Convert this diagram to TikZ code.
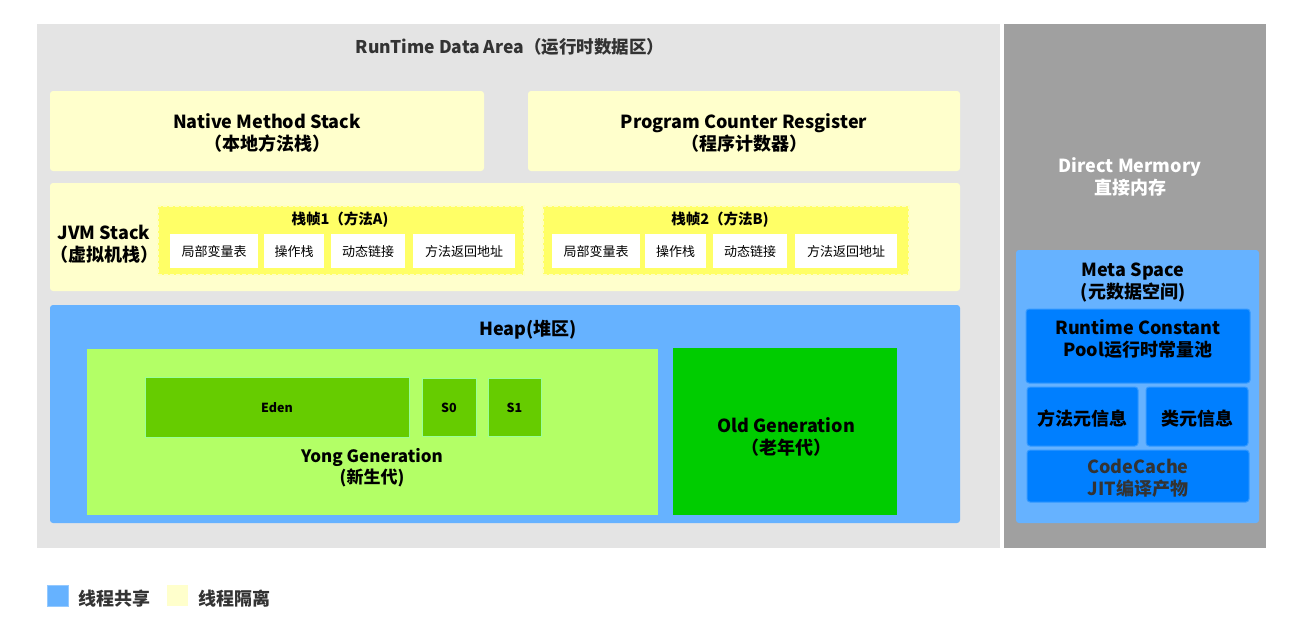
\documentclass[tikz,border=0pt]{standalone}
\usepackage{fontspec}
\setmainfont{Noto Sans CJK SC}
\definecolor{bgA}{HTML}{E4E4E4}
\definecolor{bgD}{HTML}{A0A0A0}
\definecolor{lyel}{HTML}{FFFFCC}
\definecolor{fyel}{HTML}{FFFF66}
\definecolor{fyelb}{HTML}{FFFFC0}
\definecolor{hblue}{HTML}{66B2FF}
\definecolor{dblue}{HTML}{007FFF}
\definecolor{dbluel}{HTML}{3399FF}
\definecolor{ygreen}{HTML}{B3FF66}
\definecolor{egreen}{HTML}{66CC00}
\definecolor{egreenb}{HTML}{99FF99}
\definecolor{ogreen}{HTML}{00CC00}
\definecolor{txtg}{HTML}{333333}
\tikzset{
  area/.style={anchor=north west, inner sep=0pt, outer sep=0pt},
  panel/.style={area, rounded corners=3pt},
  lbl/.style={font=\fontsize{18}{22}\selectfont\bfseries, align=center, inner sep=0pt, yshift=-2pt},
  sml/.style={font=\fontsize{13}{16}\selectfont, inner sep=0pt, yshift=-1pt},
  ftitle/.style={font=\fontsize{14.5}{16}\selectfont\bfseries, inner sep=0pt, yshift=-1pt},
  cell/.style={area, fill=white, minimum height=34pt},
  frame/.style={area, fill=fyel, draw=fyelb, dash pattern=on 4pt off 2pt, line width=2pt, minimum height=69pt, minimum width=366pt},
  gbox/.style={area, fill=egreen, draw=egreenb, line width=1pt},
  mbox/.style={area, fill=dblue, draw=dbluel, line width=1pt, rounded corners=3pt},
}
\begin{document}
\begin{tikzpicture}[x=1pt,y=-1pt]
\useasboundingbox (0,0) rectangle (1313,638);
\fill[white] (0,0) rectangle (1313,638);
% main areas
\node[area, fill=bgA, minimum width=963pt, minimum height=524pt] (rt) at (37,24) {};
\node[area, fill=bgD, minimum width=262pt, minimum height=524pt] (dm) at (1004,24) {};
\node[font=\fontsize{17.5}{20}\selectfont\bfseries, text=txtg, inner sep=0pt] (rtt) at (510,47) {RunTime Data Area（运行时数据区）};
% native & pc
\node[panel, fill=lyel, minimum width=434pt, minimum height=80pt] (nms) at (50,91) {};
\node[lbl] at (nms.center) {Native Method Stack\\（本地方法栈）};
\node[panel, fill=lyel, minimum width=432pt, minimum height=80pt] (pc) at (528,91) {};
\node[lbl] at (pc.center) {Program Counter Resgister\\（程序计数器）};
% jvm stack
\node[panel, fill=lyel, minimum width=910pt, minimum height=108pt] (jvm) at (50,183) {};
\node[lbl] (jvmt) at (104,242) {JVM Stack\\（虚拟机栈）};
\node[frame] (f1) at (158,206) {};
\node[ftitle] at (340,219) {栈帧1（方法A)};
\node[cell, minimum width=88pt] (a1) at (170,234) {};
\node[sml] at (a1.center) {局部变量表};
\node[cell, minimum width=60pt] (a2) at (264,234) {};
\node[sml] at (a2.center) {操作栈};
\node[cell, minimum width=74pt] (a3) at (331,234) {};
\node[sml] at (a3.center) {动态链接};
\node[cell, minimum width=102pt] (a4) at (413,234) {};
\node[sml] at (a4.center) {方法返回地址};
\node[frame] (f2) at (543,206) {};
\node[ftitle] at (720,219) {栈帧2（方法B)};
\node[cell, minimum width=88pt] (b1) at (552,234) {};
\node[sml] at (b1.center) {局部变量表};
\node[cell, minimum width=61pt] (b2) at (645,234) {};
\node[sml] at (b2.center) {操作栈};
\node[cell, minimum width=74pt] (b3) at (713,234) {};
\node[sml] at (b3.center) {动态链接};
\node[cell, minimum width=102pt] (b4) at (795,234) {};
\node[sml] at (b4.center) {方法返回地址};
% heap
\node[panel, fill=hblue, minimum width=910pt, minimum height=218pt] (heap) at (50,305) {};
\node[lbl] at (528,328) {Heap(堆区)};
\node[area, fill=ygreen, minimum width=571pt, minimum height=166pt] (yg) at (87,349) {};
\node[lbl, font=\fontsize{17}{21}\selectfont\bfseries] at (372,466) {Yong Generation\\(新生代)};
\node[gbox, minimum width=264pt, minimum height=60pt] (eden) at (145,377) {};
\node[ftitle, font=\fontsize{12.5}{14}\selectfont\bfseries] at (eden.center) {Eden};
\node[gbox, minimum width=54pt, minimum height=58pt] (s0) at (422,378) {};
\node[ftitle, font=\fontsize{12.5}{14}\selectfont\bfseries] at (s0.center) {S0};
\node[gbox, minimum width=53pt, minimum height=58pt] (s1) at (488,378) {};
\node[ftitle, font=\fontsize{12.5}{14}\selectfont\bfseries] at (s1.center) {S1};
\node[area, fill=ogreen, minimum width=224pt, minimum height=167pt] (og) at (673,348) {};
\node[lbl] at (786,435) {Old Generation\\（老年代）};
% direct memory
\node[lbl, text=white] at (1130,175) {Direct Mermory\\直接内存};
\node[panel, fill=hblue, minimum width=243pt, minimum height=273pt] (meta) at (1016,250) {};
\node[lbl] at (1133,281) {Meta Space\\(元数据空间)};
\node[mbox, minimum width=224pt, minimum height=74pt] (rcp) at (1026,309) {};
\node[lbl] at (1138,337) {Runtime Constant\\Pool运行时常量池};
\node[mbox, minimum width=111pt, minimum height=59pt] (mm) at (1027,387) {};
\node[lbl] at (mm.center) {方法元信息};
\node[mbox, minimum width=102pt, minimum height=59pt] (cm) at (1146,387) {};
\node[lbl] at (cm.center) {类元信息};
\node[mbox, minimum width=222pt, minimum height=52pt] (cc) at (1027,450) {};
\node[lbl, text=txtg] at (cc.center) {CodeCache\\JIT编译产物};
% legend
\node[area, fill=hblue, draw=hblue!70!white, minimum width=21pt, minimum height=21pt] (lg1) at (47,585) {};
\node[lbl, text=txtg, anchor=west] at (78,597) {线程共享};
\node[area, fill=lyel, minimum width=21pt, minimum height=21pt] (lg2) at (167,585) {};
\node[lbl, text=txtg, anchor=west] at (198,597) {线程隔离};
\end{tikzpicture}
\end{document}
